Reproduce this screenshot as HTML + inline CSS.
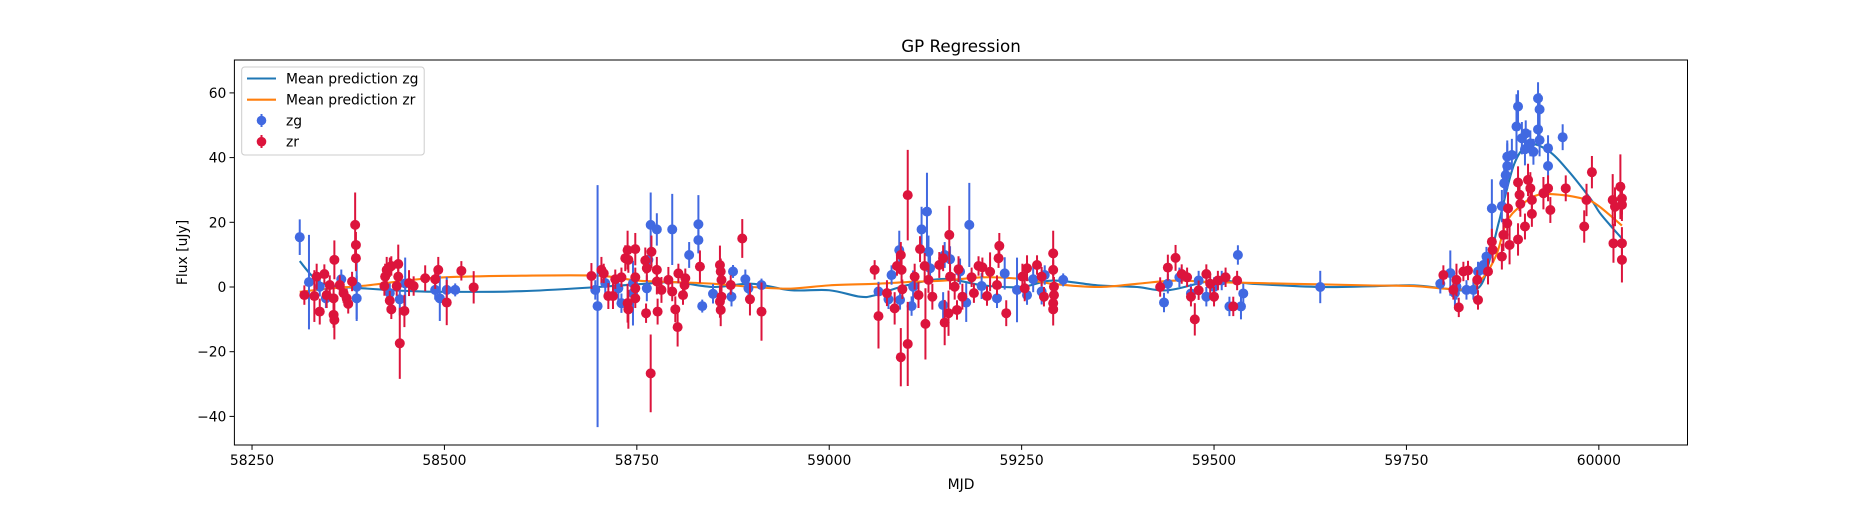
<!DOCTYPE html>
<html><head><meta charset="utf-8"><title>GP Regression</title>
<style>
html,body{margin:0;padding:0;background:#fff;}
svg text{font-family:"DejaVu Sans","Liberation Sans",sans-serif;fill:#000;}
</style></head>
<body>
<svg id="chart" width="1875" height="500" viewBox="0 0 1875 500" xmlns="http://www.w3.org/2000/svg">
<rect x="0" y="0" width="1875" height="500" fill="#fff"/>
<g id="plot"></g>
<rect x="234.4" y="60" width="1453.1" height="385" fill="none" stroke="#000" stroke-width="1"/>
<g id="xticks"></g>
<g id="yticks"></g>
<text x="961" y="52" font-size="16.7" text-anchor="middle">GP Regression</text>
<text x="961" y="489" font-size="13.9" text-anchor="middle">MJD</text>
<text x="0" y="0" font-size="13.9" text-anchor="middle" transform="translate(187,252.5) rotate(-90)">Flux [uJy]</text>
<g>
<rect x="241.7" y="67" width="182.5" height="88" rx="3" fill="#fff" fill-opacity="0.8" stroke="#ccc" stroke-width="1"/>
<line x1="247" y1="78.5" x2="276" y2="78.5" stroke="#1f77b4" stroke-width="2.1"/>
<text x="286" y="83.5" font-size="13.9">Mean prediction zg</text>
<line x1="247" y1="99.7" x2="276" y2="99.7" stroke="#ff7f0e" stroke-width="2.1"/>
<text x="286" y="104.7" font-size="13.9">Mean prediction zr</text>
<line x1="261.5" y1="114" x2="261.5" y2="127" stroke="#4169e1" stroke-width="2"/>
<circle cx="261.5" cy="120.5" r="4.8" fill="#4169e1"/>
<text x="286" y="125.5" font-size="13.9">zg</text>
<line x1="261.5" y1="135" x2="261.5" y2="148" stroke="#dc143c" stroke-width="2"/>
<circle cx="261.5" cy="141.7" r="4.8" fill="#dc143c"/>
<text x="286" y="146.7" font-size="13.9">zr</text>
</g>
</svg>
<script>
const xTicks = [58250, 58500, 58750, 59000, 59250, 59500, 59750, 60000];
const yTicks = [-40, -20, 0, 20, 40, 60];

const zgMjd = [58312,58324,58338,58346,58366,58386,58386,58429,58442,58449,58488,58494,58503,58514,
58699,58696,58709,58726,58730,58745,58745,58763,58765,58768,58776,58796,58818,58830,58830,58835,58849,58873,58875,58891,58912,58895,
59064,59077,59081,59091,59092,59107,59109,59120,59127,59129,59131,59148,59150,59157,59170,59178,59182,59198,59218,59228,59244,59257,59265,59276,59280,59304,
59435,59440,59455,59470,59480,59490,59500,59510,59520,59531,59535,59538,59638,
59794,59807,59813,59815,59828,59837,59843,59850,59854,59861,59874,59877,59879,59881,59881,59887,59893,59895,59900,59904,59905,59911,59915,59921,59923,59921,59923,59934,59934,59953];
const zgFlux = [15.4,1.5,0.1,-3.5,2.4,-3.5,0.1,-1.9,-3.8,1.1,-0.9,-3.5,-0.9,-0.9,
-5.9,-0.9,1.2,-0.4,-5.0,-1.9,1.2,-0.4,8.4,19.2,17.8,17.8,9.9,19.4,14.5,-5.9,-2.1,-3,4.8,2.4,0.6,-0.4,
-1.4,-3.8,3.7,11.4,-4,-5.9,0.1,17.8,23.3,10.9,5.8,-5.6,9.9,8.6,4.8,-4.8,19.2,0.3,-3.5,4.2,-0.9,-2.5,2.4,-1.4,3.7,2.2,
-4.8,1,3,-2,2,-3,0,2,-6,9.9,-6,-2,0,
1,4.3,-1.9,0.1,-0.9,-0.9,4.8,6.8,9.4,24.3,25,32.1,34.6,37.4,40.3,40.8,49.6,55.8,46,42.6,47.5,44.4,41.8,58.3,54.9,48.7,45.4,42.9,37.4,46.3];
const zgErr = [5.5,14.6,3,3,3,7,10,3,5,8,3,7,4,2,
37.4,3,4,4,3,10,3,4,3,10,5,11,4,9,4,2,3,3,2,3,2,2,
3,3,3,6,3,3,5,7,12,5,4,4,4,4,4,6,13,4,3,5,10,3,4,4,3,2,
3,3,3,3,3,3,3,3,3,3,4,3,5,
3,7,4,4,3,3,3,3,3,9,5,5,6,7,5,5,10,5,5,5,4,4,4,5,5,5,5,4,4,4];

const zrMjd = [58318,58331,58334,58338,58344,58347,58351,58356,58357,58357,58356,58364,58369,58373,58375,58380,58384,58385,58385,58422,58423,58425,58429,58431,58440,58440,58438,58429,58431,58442,58448,58454,58460,58475,58488,58492,58503,58522,58538,
58691,58704,58707,58713,58719,58722,58730,58735,58738,58739,58738,58739,58748,58748,58748,58748,58761,58763,58762,58768,58769,58776,58776,58777,58782,58791,58796,58800,58803,58804,58812,58813,58810,58832,58858,58859,58860,58858,58859,58860,58872,58887,58897,58912,
59059,59064,59075,59085,59088,59093,59094,59093,59102,59102,59095,59111,59116,59118,59124,59125,59129,59134,59143,59148,59150,59156,59155,59157,59163,59166,59168,59173,59185,59188,59194,59199,59205,59209,59218,59221,59220,59230,59251,59254,59257,59270,59276,59279,59291,59291,59292,59292,59291,59291,
59430,59440,59450,59458,59465,59470,59475,59480,59490,59495,59500,59505,59515,59525,59530,
59798,59811,59818,59815,59824,59830,59842,59843,59856,59861,59862,59874,59876,59881,59882,59884,59895,59895,59897,59898,59904,59908,59911,59913,59913,59928,59934,59937,59957,59981,59984,59991,60018,60019,60021,60028,60030,60030,60030,60030];
const zrFlux = [-2.5,-2.8,3.2,-7.6,4,-2.5,0.6,-8.6,-10.2,8.4,-3.5,0.6,-1.9,-3.5,-5.2,1.7,19.2,13,8.9,0.3,3.2,5.3,6.1,6.5,7.1,3.2,0.3,-4.2,-6.9,-17.4,-7.4,1.2,0.3,2.7,2.4,5.3,-4.8,5,-0.1,
3.4,5.3,4.2,-2.8,-2.8,2.4,3,8.9,11.4,8.4,-5.0,-6.9,11.7,3,-0.4,-3.5,8.2,5.8,-8.1,-26.7,10.9,5.3,1.7,-7.6,-0.9,2.2,-1.4,-6.9,-12.4,4.2,0.6,2.7,-2.5,6.3,6.8,4.8,2.2,-4.5,-7.1,-3,0.6,15,-3.8,-7.6,
5.3,-9,-1.9,-6.6,6.5,9.9,5.3,-21.7,-17.6,28.4,-0.7,3.2,-2.5,11.7,6.5,-11.4,2.2,-3,6.8,8.9,-11,16.1,-8.1,3.2,0.1,-7.1,5.5,-3,3,-1.9,6.5,6.1,-2.8,4.7,0.6,12.7,8.9,-8.1,3.2,-0.4,5.8,6.8,3.2,-3,10.4,5.3,0.1,-2.5,-5.0,-6.9,
0,6,9,4,3,-3,-10,-1,4,1,-3,2,3,-6,2,
3.7,-0.9,-6.3,2.2,4.8,5.1,2.2,-4,4.8,14,11.5,9.4,16.1,19.7,24.3,13,14.7,32.3,28.5,25.7,18.7,33.1,30.5,26.9,22.6,29,30.5,23.8,30.5,18.7,26.9,35.5,26.9,13.5,24.8,31,8.4,13.5,27.4,25.4];
const zrErr = [3,8,4,4,3,4,3,4,6,6,4,3,3,3,3,3,10,4,4,3,4,4,3,3,6,3,3,3,3,11,5,4,3,4,3,4,7,3,5,
4,4,3,4,4,3,3,4,6,4,6,6,5,3,3,3,4,4,3,12,5,4,4,4,4,4,3,4,6,3,3,3,3,5,6,4,4,5,5,3,3,6,5,9,
3,10,4,5,3,4,4,9,13,14,3,4,4,4,4,11,4,4,4,4,7,9,7,4,4,3,4,4,3,3,3,3,3,6,3,4,3,4,4,4,4,3,3,3,7,3,3,3,3,5,
3,4,4,3,3,3,5,3,3,3,3,3,3,3,3,
3,3,3,5,3,3,3,3,4,4,4,4,5,5,5,6,5,5,5,4,4,5,5,4,4,5,4,4,4,5,5,5,8,6,6,10,7,5,5,5];

const zgPredMjd = [58312,58330,58350,58400,58450,58500,58600,58700,58760,58800,58850,58900,58950,59000,59040,59060,59100,59150,59200,59250,59290,59350,59400,59440,59500,59550,59640,59700,59760,59800,59830,59850,59870,59890,59910,59935,59960,59990,60001,60015,60030];
const zgPredFlux = [8,3,0.5,-0.5,-1.2,-1.5,-1.3,0,1,1.5,0,1,-1,-1,-3,-2.5,0.5,2.5,0.5,0,2,0.5,0,-1,2,1,0,0.2,0.5,-0.5,-1,2,20,38,44,42,36,27,23,19,15];
const zrPredMjd = [58312,58350,58400,58450,58500,58600,58700,58750,58800,58850,58900,58950,59000,59060,59100,59150,59200,59250,59290,59350,59400,59450,59500,59600,59700,59760,59800,59830,59850,59867,59880,59898,59920,59950,59984,60000,60030];
const zrPredFlux = [-1.5,-0.5,0.5,2,3,3.5,3.5,2,1.5,1,0,-0.5,0.5,1,1.5,2,3,2.5,1,0,1,2,1.5,1,0.5,0.3,-0.5,-0.5,3,10,20,25,28.4,28.5,27,25,19];

const L=234.4,R=1687.5,T=60,B=445, X0=58227.1, X1=60115.2, Y0=-48.84, Y1=70.17;
function xs(v){return L+(v-X0)/(X1-X0)*(R-L);}
function ys(v){return B-(v-Y0)/(Y1-Y0)*(B-T);}
const NS='http://www.w3.org/2000/svg';
function mk(tag,attrs,parent){const e=document.createElementNS(NS,tag);for(const k in attrs)e.setAttribute(k,attrs[k]);parent.appendChild(e);return e;}

const plot=document.getElementById('plot');
const clip=mk('clipPath',{id:'clipA'},plot);
mk('rect',{x:L,y:T,width:R-L,height:B-T},clip);
const inner=mk('g',{'clip-path':'url(#clipA)'},plot);

function smoothPath(xsArr,ysArr){
  const p=xsArr.map((x,i)=>[xs(x),ys(ysArr[i])]);
  let d='M'+p[0][0].toFixed(2)+','+p[0][1].toFixed(2);
  for(let i=0;i<p.length-1;i++){
    const p0=p[Math.max(i-1,0)],p1=p[i],p2=p[i+1],p3=p[Math.min(i+2,p.length-1)];
    const c1=[p1[0]+(p2[0]-p0[0])/6,p1[1]+(p2[1]-p0[1])/6];
    const c2=[p2[0]-(p3[0]-p1[0])/6,p2[1]-(p3[1]-p1[1])/6];
    d+='C'+c1[0].toFixed(2)+','+c1[1].toFixed(2)+' '+c2[0].toFixed(2)+','+c2[1].toFixed(2)+' '+p2[0].toFixed(2)+','+p2[1].toFixed(2);
  }
  return d;
}
const lz=mk('path',{d:smoothPath(zgPredMjd,zgPredFlux),fill:'none',stroke:'#1f77b4','stroke-width':2.1},inner);


const lr=mk('path',{d:smoothPath(zrPredMjd,zrPredFlux),fill:'none',stroke:'#ff7f0e','stroke-width':2.1},inner);



function drawSeries(mjd,flux,err,color,name){
  const g=mk('g',{},inner);
  
  
  for(let i=0;i<mjd.length;i++){
    const x=xs(mjd[i]);
    const ln=mk('line',{x1:x,x2:x,y1:ys(flux[i]-err[i]),y2:ys(flux[i]+err[i]),stroke:color,'stroke-width':2},g);
    
    
    const c=mk('circle',{cx:x,cy:ys(flux[i]),r:5,fill:color},g);
    
    
  }
}
drawSeries(zgMjd,zgFlux,zgErr,'#4169e1','zg');
drawSeries(zrMjd,zrFlux,zrErr,'#dc143c','zr');

const gx=document.getElementById('xticks');
xTicks.forEach(t=>{
  const x=xs(t);
  const tk=mk('line',{x1:x,x2:x,y1:B,y2:B+4.9,stroke:'#000','stroke-width':1},gx);
  
  
  const tx=mk('text',{x:x,y:B+20,'font-size':13.9,'text-anchor':'middle'},gx);
  tx.textContent=String(t);
  
  
});
const gy=document.getElementById('yticks');
yTicks.forEach(t=>{
  const y=ys(t);
  const tk=mk('line',{x1:L-4.9,x2:L,y1:y,y2:y,stroke:'#000','stroke-width':1},gy);
  
  
  const tx=mk('text',{x:L-8,y:y+5,'font-size':13.9,'text-anchor':'end'},gy);
  tx.textContent=t<0?'\u2212'+Math.abs(t):String(t);
  
  
});
</script>
</body></html>
